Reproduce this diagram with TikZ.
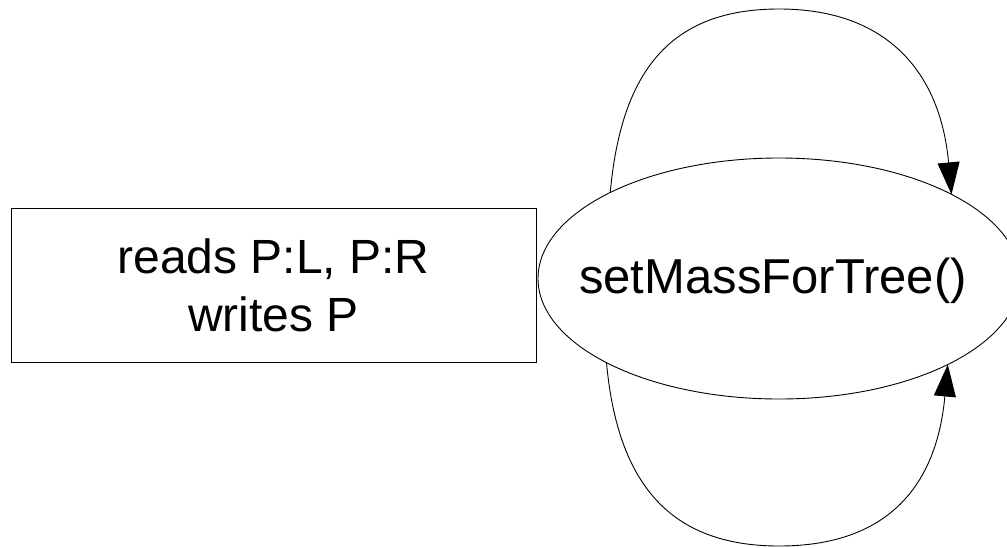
\documentclass[tikz,border=0pt]{standalone}
\usepackage{fontspec}
\setmainfont{Liberation Sans}
\usetikzlibrary{shapes.geometric,arrows.meta}

\tikzset{
  thinline/.style={line width=0.9pt, draw=black},
  infobox/.style={thinline, rectangle, minimum width=525pt, minimum height=154pt,
    inner sep=0pt, outer sep=0pt, align=center,
    font=\fontsize{48}{58}\selectfont},
  funcshape/.style={thinline, ellipse, minimum width=482pt, minimum height=241pt,
    inner sep=0pt, outer sep=0pt},
  functext/.style={font=\fontsize{49}{58}\selectfont, inner sep=0pt},
  loop/.style={thinline, -{Triangle[length=32pt,width=22pt]}},
}

\begin{document}
\begin{tikzpicture}[x=1pt, y=-1pt]
  \useasboundingbox (0,0) rectangle (1007,547);

  % access annotation box
  \node[infobox] (rw) at (273.5,285) {reads P:L, P:R\\writes P};

  % the function node
  \node[funcshape] (fn) at (779,278.5) {};
  \node[functext] (fnlabel) at ([xshift=-6pt,yshift=-2pt]fn.center) {setMassForTree()};

  % apex points of the two self loops
  \coordinate (ta) at (779,9);
  \coordinate (ba) at (779,546);

  % recursive calls: upper and lower self loops
  \draw[loop] (fn.153.3) .. controls +(11,-120) and +(-110,0) .. (ta)
                         .. controls +(110,0) and +(-11,-120) .. (fn.26.7);
  \draw[loop] (fn.206.7) .. controls +(11,120) and +(-110,0) .. (ba)
                         .. controls +(110,0) and +(-11,120) .. (fn.333.3);
\end{tikzpicture}
\end{document}
